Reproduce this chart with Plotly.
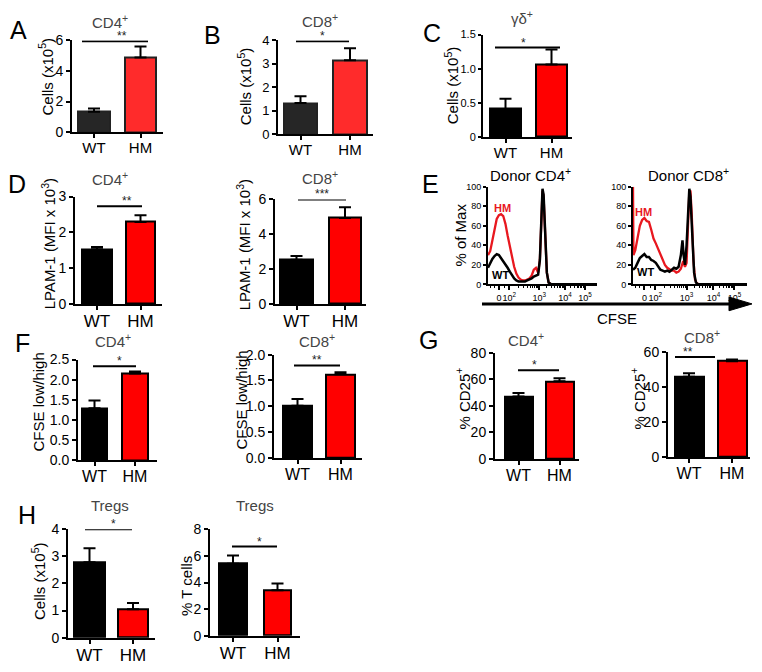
import math
import plotly.graph_objects as go

# page body has an 8px margin, so the figure is drawn 8px smaller and shifted
OX, OY = 8, 8
W, H = 762 - OX, 672 - OY
FONT = "Liberation Sans, Arial, sans-serif"

groups = ["WT", "HM"]

# bar panels: mean and upper error (SEM)
a_mean = [1.33, 4.88]
a_err = [0.22, 0.72]
b_mean = [1.33, 3.15]
b_err = [0.29, 0.52]
c_mean = [0.41, 1.06]
c_err = [0.15, 0.22]
d4_mean = [1.53, 2.29]
d4_err = [0.06, 0.19]
d8_mean = [2.54, 4.94]
d8_err = [0.21, 0.62]
f4_mean = [1.29, 2.15]
f4_err = [0.19, 0.05]
f8_mean = [1.01, 1.62]
f8_err = [0.13, 0.04]
g4_mean = [47.0, 58.5]
g4_err = [2.6, 2.2]
g8_mean = [45.7, 54.6]
g8_err = [2.1, 1.0]
treg_cells = [2.78, 1.05]
treg_cells_err = [0.52, 0.23]
treg_pct = [5.42, 3.42]
treg_pct_err = [0.62, 0.50]

# CFSE histograms (display units of the logicle axis, % of max)
cd4_hm_x = [0.0, 0.1, 0.2, 0.3, 0.4, 0.5, 0.6, 0.7, 0.8, 0.9, 1.0, 1.1, 1.2, 1.3, 1.4,
            1.5, 1.6, 1.7, 1.8, 1.9, 2.0, 2.1, 2.2, 2.3, 2.38, 2.45, 2.5, 2.55, 2.62,
            2.7, 2.78, 2.9, 5.0]
cd4_hm_y = [30, 34, 45, 58, 67, 71, 72, 70, 62, 50, 38, 28, 18, 11, 7,
            5, 4, 4, 5, 6, 9, 15, 17, 12, 25, 75, 96, 90, 50,
            12, 2, 0, 0]
cd4_wt_x = [0.0, 0.1, 0.2, 0.3, 0.4, 0.5, 0.6, 0.7, 0.8, 0.9, 1.0, 1.1, 1.2, 1.3, 1.4,
            1.5, 1.6, 1.7, 1.8, 1.9, 2.0, 2.1, 2.2, 2.3, 2.38, 2.45, 2.5, 2.55, 2.62,
            2.7, 2.78, 2.9, 5.0]
cd4_wt_y = [17, 22, 26, 29, 31, 30, 27, 24, 21, 17, 13, 9, 6, 4, 3,
            3, 3, 3, 4, 5, 6, 8, 9, 10, 25, 78, 98, 92, 52,
            12, 2, 0, 0]
cd8_hm_x = [0.0, 0.02, 0.1, 0.2, 0.3, 0.4, 0.5, 0.6, 0.7, 0.8, 0.9, 1.0, 1.1, 1.2, 1.3,
            1.4, 1.5, 1.6, 1.7, 1.8, 1.9, 2.0, 2.1, 2.2, 2.28, 2.35, 2.42, 2.47, 2.52,
            2.58, 2.65, 2.72, 2.8, 2.9, 5.0]
cd8_hm_y = [100, 30, 35, 47, 60, 66, 68, 65, 64, 56, 47, 42, 36, 30, 24,
            20, 17, 15, 14, 14, 12, 13, 16, 24, 18, 22, 60, 95, 96,
            70, 25, 5, 1, 0, 0]
cd8_wt_x = [0.0, 0.1, 0.2, 0.3, 0.4, 0.5, 0.6, 0.7, 0.8, 0.9, 1.0, 1.1, 1.2, 1.3, 1.4,
            1.5, 1.6, 1.7, 1.8, 1.9, 2.0, 2.1, 2.17, 2.22, 2.28, 2.35, 2.42, 2.47, 2.52,
            2.6, 2.68, 2.76, 2.85, 5.0]
cd8_wt_y = [15, 17, 22, 27, 29, 31, 28, 28, 25, 24, 22, 18, 15, 14, 13,
            14, 13, 15, 17, 16, 18, 30, 45, 30, 20, 40, 85, 98, 90,
            50, 12, 2, 0, 0]

cfse_tickvals = [0.5, 0.98, 2.35, 3.53, 4.45]
cfse_ticktext = ["0", "10<sup>2</sup>", "10<sup>3</sup>", "10<sup>4</sup>", "10<sup>5</sup>"]


def px(x, y):
    return (x - OX) / W, 1 - (y - OY) / H


def xdom(x0, x1):
    return [px(x0, 0)[0], px(x1, 0)[0]]


def ydom(ytop, ybot):
    return [px(0, ybot)[1], px(0, ytop)[1]]


def ax_names(n):
    s = "" if n == 1 else str(n)
    return "x" + s, "y" + s, "xaxis" + s, "yaxis" + s


fig = go.Figure()
annotations = []
shapes = []


def add_text(text, x, y, size, color="black", angle=0, bold=False):
    fx, fy = px(x, y)
    if bold:
        text = "<b>" + text + "</b>"
    annotations.append(dict(text=text, x=fx, y=fy, xref="paper", yref="paper",
                            showarrow=False, textangle=angle, xanchor="center",
                            yanchor="middle", font=dict(family=FONT, size=size, color=color)))


def bar_panel(n, mean, err, spec):
    xr, yr, xk, yk = ax_names(n)
    x0, x1, ytop, ybot = spec["box"]
    wl, wr, hl, hr = spec["bars"]
    c0 = (wl + wr) / 2
    c1 = (hl + hr) / 2
    u = c1 - c0
    bw = ((wr - wl) + (hr - hl)) / 2 / u
    fig.add_trace(go.Bar(
        x=[0, 1], y=mean, width=bw, xaxis=xr, yaxis=yr, showlegend=False,
        marker=dict(color=spec["colors"], line=dict(color=spec.get("edge", "black"), width=2)),
        error_y=dict(type="data", symmetric=False, array=err, arrayminus=[0, 0],
                     color="black", thickness=2, width=6),
        hoverinfo="skip"))
    fig.layout[xk] = dict(domain=xdom(x0, x1), anchor=yr,
                          range=[(x0 - c0) / u, (x1 - c0) / u],
                          tickvals=[0, 1], ticktext=groups, tickangle=0,
                          ticklabelstandoff=-3,
                          showline=True, linewidth=2, linecolor="black",
                          ticks="outside", ticklen=4, tickwidth=2, tickcolor="black",
                          showgrid=False, zeroline=False, fixedrange=True,
                          tickfont=dict(family=FONT, size=spec.get("xfont", 16), color="black"))
    tv = spec["ticks"]
    tt = spec.get("ticktext", [("%g" % t) for t in tv])
    fig.layout[yk] = dict(domain=ydom(ytop, ybot), anchor=xr,
                          range=[0, spec["ymax"]], tickvals=tv, ticktext=tt,
                          showline=True, linewidth=2, linecolor="black",
                          ticks="outside", ticklen=spec.get("ticklen", 4), tickwidth=2,
                          tickcolor="black",
                          showgrid=False, zeroline=False, fixedrange=True,
                          tickfont=dict(family=FONT, size=spec.get("yfont", 14), color="black"))
    # significance bar
    sx0, sx1, sy, stars = spec["sig"]
    shapes.append(dict(type="line", xref="paper", yref=yr, x0=px(sx0, 0)[0], x1=px(sx1, 0)[0],
                       y0=sy, y1=sy, line=dict(color="black", width=2)))
    annotations.append(dict(text=stars, x=px((sx0 + sx1) / 2, 0)[0], y=sy, xref="paper", yref=yr,
                            showarrow=False, yanchor="bottom", yshift=-4,
                            font=dict(family=FONT, size=12, color="#222")))
    tx, ty, ttl = spec["title"]
    add_text(ttl, tx, ty, 15, "#444")
    yx, yy, ytl = spec["ytitle"]
    add_text(ytl, yx, yy, 15, "black", angle=-90)


dark = ["#262626", "#ff2b2b"]
std = ["black", "#ff0000"]
cells = "Cells (x10<sup>5</sup>)"
lpam = "LPAM-1 (MFI x 10<sup>3</sup>)"
cfse_ratio = "CFSE low/high"
cd25 = "% CD25<sup>+</sup>"

bar_panel(1, a_mean, a_err, dict(box=(72, 163, 33, 127), bars=(78, 110, 125, 156), ymax=6,
                                 ticks=[0, 2, 4, 6], colors=dark, edge="#222", xfont=15,
                                 sig=(82, 148, 5.95, "**"), title=(110, 14, "CD4<sup>+</sup>"),
                                 ytitle=(46, 70, cells)))
bar_panel(2, b_mean, b_err, dict(box=(278, 373, 33, 129), bars=(284, 317, 333, 367), ymax=4,
                                 ticks=[0, 1, 2, 3, 4], colors=dark, edge="#222", xfont=15, yfont=13,
                                 sig=(296, 349, 3.96, "*"), title=(320, 13, "CD8<sup>+</sup>"),
                                 ytitle=(244, 80, cells)))
bar_panel(3, c_mean, c_err, dict(box=(483, 572, 27, 132), bars=(490, 521, 536, 567), ymax=1.5,
                                 ticks=[0, 0.5, 1.0, 1.5], ticktext=["0", "0.5", "1.0", "1.5"],
                                 colors=std, xfont=15, yfont=11, ticklen=3,
                                 sig=(495, 560, 1.31, "*"), title=(522, 10, "γδ<sup>+</sup>"),
                                 ytitle=(451, 79, cells)))
bar_panel(4, d4_mean, d4_err, dict(box=(75, 162, 193, 303), bars=(82, 112, 126, 155), ymax=3,
                                   ticks=[0, 1, 2, 3], colors=std, xfont=17,
                                   sig=(97, 142, 2.73, "**"), title=(110, 175, "CD4<sup>+</sup>"),
                                   ytitle=(48, 242, lpam)))
bar_panel(5, d8_mean, d8_err, dict(box=(275, 366, 196, 303), bars=(280, 313, 329, 361), ymax=6,
                                   ticks=[0, 2, 4, 6], colors=std, xfont=17,
                                   sig=(298, 346, 6.0, "***"), title=(320, 173, "CD8<sup>+</sup>"),
                                   ytitle=(243, 242, lpam)))
bar_panel(8, f4_mean, f4_err, dict(box=(78, 157, 360, 463), bars=(82, 107, 122, 148), ymax=2.5,
                                   ticks=[0, 0.5, 1.0, 1.5, 2.0, 2.5],
                                   ticktext=["0.0", "0.5", "1.0", "1.5", "2.0", "2.5"],
                                   colors=std, xfont=16,
                                   sig=(93, 136, 2.33, "*"), title=(113, 340, "CD4<sup>+</sup>"),
                                   ytitle=(38, 404, cfse_ratio)))
bar_panel(9, f8_mean, f8_err, dict(box=(274, 362, 355, 461), bars=(283, 312, 326, 355), ymax=2.0,
                                   ticks=[0, 0.5, 1.0, 1.5, 2.0],
                                   ticktext=["0.0", "0.5", "1.0", "1.5", "2.0"],
                                   colors=std, xfont=16,
                                   sig=(294, 340, 1.79, "**"), title=(317, 341, "CD8<sup>+</sup>"),
                                   ytitle=(242, 402, cfse_ratio)))
bar_panel(10, g4_mean, g4_err, dict(box=(495, 579, 353, 462), bars=(504, 533, 546, 573), ymax=80,
                                    ticks=[0, 20, 40, 60, 80], colors=std, xfont=16,
                                    sig=(518, 559, 66.8, "*"), title=(526, 339, "CD4<sup>+</sup>"),
                                    ytitle=(463, 400, cd25)))
bar_panel(11, g8_mean, g8_err, dict(box=(668, 750, 352, 460), bars=(672, 706, 720, 744), ymax=60,
                                    ticks=[0, 20, 40, 60], colors=std, xfont=16,
                                    sig=(675, 715, 57, "**"), title=(702, 336, "CD8<sup>+</sup>"),
                                    ytitle=(638, 400, cd25)))
bar_panel(12, treg_cells, treg_cells_err, dict(box=(68, 155, 534, 645), bars=(74, 105, 118, 148),
                                               ymax=4, ticks=[0, 1, 2, 3, 4], colors=std, xfont=17,
                                               sig=(85, 132, 4.0, "*"), title=(110, 510, "Tregs"),
                                               ytitle=(38, 587, cells)))
bar_panel(13, treg_pct, treg_pct_err, dict(box=(210, 300, 534, 643), bars=(218, 248, 265, 290),
                                           ymax=8, ticks=[0, 2, 4, 6, 8], colors=std, xfont=17,
                                           sig=(232, 277, 6.7, "*"), title=(255, 510, "Tregs"),
                                           ytitle=(187, 592, "% T cells")))

# CFSE histograms
minor_vals = []
for lo, hi in [(0.98, 2.35), (2.35, 3.53), (3.53, 4.45)]:
    for k in range(2, 10):
        minor_vals.append(lo + (hi - lo) * math.log10(k))
minor_vals += [0.1, 0.3, 0.75]


def hist_panel(n, box, hm_x, hm_y, wt_x, wt_y, title, hm_lab, wt_lab, ytitle=None):
    xr, yr, xk, yk = ax_names(n)
    x0, x1, ytop, ybot = box
    fig.add_trace(go.Scatter(x=hm_x, y=hm_y, mode="lines", xaxis=xr, yaxis=yr,
                             line=dict(color="#e8181f", width=2.3), showlegend=False,
                             hoverinfo="skip"))
    fig.add_trace(go.Scatter(x=wt_x, y=wt_y, mode="lines", xaxis=xr, yaxis=yr,
                             line=dict(color="black", width=2.5), showlegend=False,
                             hoverinfo="skip"))
    fig.layout[xk] = dict(domain=xdom(x0, x1), anchor=yr, range=[0, 5],
                          tickvals=cfse_tickvals, ticktext=cfse_ticktext, tickangle=0,
                          showline=True, linewidth=2, linecolor="black",
                          ticks="outside", ticklen=4, tickwidth=1.5, tickcolor="black",
                          minor=dict(tickvals=minor_vals, ticks="outside", ticklen=2,
                                     tickwidth=1, tickcolor="black"),
                          showgrid=False, zeroline=False, fixedrange=True,
                          tickfont=dict(family=FONT, size=9, color="black"))
    fig.layout[yk] = dict(domain=ydom(ytop, ybot), anchor=xr, range=[0, 100],
                          tickvals=[0, 20, 40, 60, 80, 100], tickangle=0,
                          showline=True, linewidth=2, linecolor="black",
                          ticks="outside", ticklen=3, tickwidth=1.5, tickcolor="black",
                          showgrid=False, zeroline=False, fixedrange=True,
                          tickfont=dict(family=FONT, size=9, color="black"))
    add_text(title[2], title[0], title[1], 15, "black")
    add_text("HM", hm_lab[0], hm_lab[1], 11, "#e8181f", bold=True)
    add_text("WT", wt_lab[0], wt_lab[1], 11, "black", bold=True)
    if ytitle:
        add_text(ytitle[2], ytitle[0], ytitle[1], 15, "black", angle=-90)


hist_panel(6, (488, 597, 183, 283), cd4_hm_x, cd4_hm_y, cd4_wt_x, cd4_wt_y,
           (530, 170, "Donor CD4<sup>+</sup>"), (502, 205), (500, 273),
           ytitle=(461, 233, "% of Max"))
hist_panel(7, (633, 747, 183, 283), cd8_hm_x, cd8_hm_y, cd8_wt_x, cd8_wt_y,
           (688, 170, "Donor CD8<sup>+</sup>"), (643, 209), (645, 270))

# CFSE arrow
ax0, ay0 = px(482, 303)
ax1, _ = px(732, 303)
shapes.append(dict(type="line", xref="paper", yref="paper", x0=ax0, x1=ax1, y0=ay0, y1=ay0,
                   line=dict(color="black", width=3)))
tip = px(752, 303)
b1 = px(729, 296)
b2 = px(729, 310)
shapes.append(dict(type="path", xref="paper", yref="paper",
                   path="M %f,%f L %f,%f L %f,%f Z" % (tip[0], tip[1], b1[0], b1[1], b2[0], b2[1]),
                   fillcolor="black", line=dict(color="black", width=1)))
add_text("CFSE", 617, 318, 15, "black")

# panel letters
for letter, lx, ly in [("A", 18, 22), ("B", 213, 27), ("C", 432, 25), ("D", 17, 180),
                       ("E", 430, 180), ("F", 22, 343), ("G", 428, 340), ("H", 27, 519)]:
    add_text(letter, lx, ly, 25, "black")

fig.update_layout(width=W, height=H, margin=dict(l=0, r=0, t=0, b=0),
                  paper_bgcolor="white", plot_bgcolor="white",
                  font=dict(family=FONT, color="black"),
                  bargap=0, annotations=annotations, shapes=shapes)

fig.write_html("out.html")
